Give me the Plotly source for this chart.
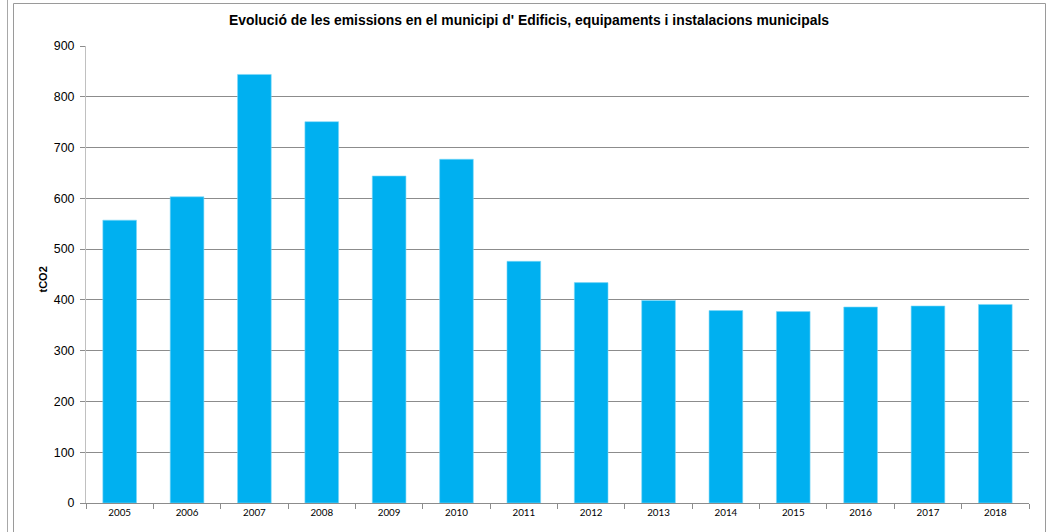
import plotly.graph_objects as go

years = ["2005", "2006", "2007", "2008", "2009", "2010", "2011",
         "2012", "2013", "2014", "2015", "2016", "2017", "2018"]
emissions = [557, 603, 844, 751, 644, 677, 476,
             434, 399, 379, 377, 386, 388, 391]
y_ticks = [0, 100, 200, 300, 400, 500, 600, 700, 800, 900]

title_text = "Evolució de les emissions en el municipi d' Edificis, equipaments i instalacions municipals"
y_title = "tCO2"

W, H = 1048, 532
# pixel positions of the plot area
X0, X1, Y0, Y1 = 86, 1029, 46, 503
L, T = X0, Y0
R, B = W - X1, H - Y1
pw, ph = X1 - X0, Y1 - Y0

def px(x):
    return (x - X0) / pw

def py(y):
    return (Y1 - y) / ph

fig = go.Figure()
fig.add_trace(go.Bar(
    x=years, y=emissions,
    marker=dict(color="#00B0F0", line=dict(color="#7fd8f7", width=0.6)),
    hoverinfo="x+y",
))

fig.update_layout(
    width=W, height=H,
    margin=dict(l=L, r=R, t=T, b=B, autoexpand=False),
    paper_bgcolor="white", plot_bgcolor="white",
    bargap=0.5,
    showlegend=False,
    title=dict(text=title_text, x=529 / W, xref="container", xanchor="center",
               y=1 - 20 / H, yref="container", yanchor="middle",
               font=dict(family="Liberation Sans, Arial", size=13.9, color="black",
                         weight="bold")),
    xaxis=dict(
        type="category", tickson="boundaries", ticks="outside", ticklen=5,
        tickcolor="#8c8c8c", showline=True, linecolor="#8c8c8c", linewidth=1,
        showgrid=False, tickfont=dict(family="Lato, Carlito, Calibri", size=9.8,
                                      color="black"),
        range=[-0.5, 13.5], fixedrange=True,
    ),
    yaxis=dict(
        range=[0, 900], tickvals=y_ticks, ticks="outside", ticklen=5,
        tickcolor="#8c8c8c", showline=True, linecolor="#c0c0c0", linewidth=1,
        showgrid=True, gridcolor="#8c8c8c", gridwidth=1, zeroline=False,
        tickfont=dict(family="Liberation Sans, Arial", size=12.4, color="black"),
        ticklabelstandoff=3, fixedrange=True,
    ),
    annotations=[dict(
        text=y_title, textangle=-90, xref="paper", yref="paper",
        x=px(42), y=py(279.5), xanchor="center", yanchor="middle",
        showarrow=False,
        font=dict(family="Liberation Sans, Arial", size=11, color="black",
                  weight="bold"),
    )],
    shapes=[
        dict(type="rect", xref="paper", yref="paper",
             x0=px(13.5), x1=px(1045.5), y0=py(545), y1=py(3.5),
             line=dict(color="#9a9a9a", width=1), fillcolor="rgba(0,0,0,0)",
             layer="above"),
        dict(type="line", xref="paper", yref="paper",
             x0=px(7.5), x1=px(7.5), y0=py(545), y1=py(-10),
             line=dict(color="#a8a8a8", width=1)),
    ],
)

fig.write_html(
    "out.html",
    config={"displayModeBar": False},
    post_script="document.body.style.margin='0';document.body.style.overflow='hidden';",
)
